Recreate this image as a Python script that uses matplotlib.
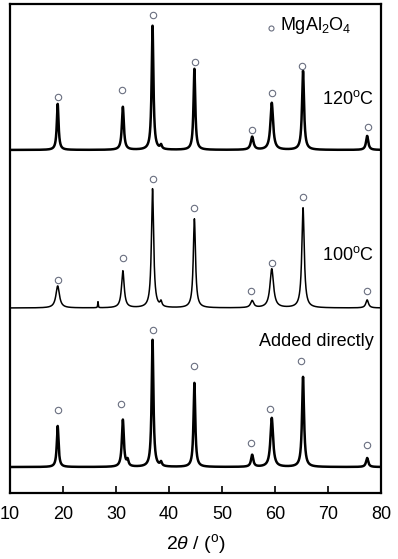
"""XRD patterns of MgAl2O4 samples prepared at different conditions."""

import matplotlib.pyplot as plt
import numpy as np

plt.rcParams["font.family"] = ["Liberation Sans", "DejaVu Sans"]
plt.rcParams["mathtext.fontset"] = "custom"
plt.rcParams["mathtext.rm"] = "Liberation Sans"
plt.rcParams["mathtext.it"] = "Liberation Sans:italic"

# Peak list (2theta in degrees, heights in plot units)
peak_pos = [19.0, 31.3, 36.9, 44.8, 55.7, 59.4, 65.3, 77.4]

# Samples from bottom to top
labels = ["Added directly", "100$^{\\rm o}$C", "120$^{\\rm o}$C"]
baselines = [26, 185, 343]
heights = [
    [41, 47, 127, 84, 12, 49, 90, 9],
    [22, 37, 119, 89, 7, 39, 100, 8],
    [46, 43, 124, 81, 13, 47, 79, 14],
]
widths = [
    [0.4, 0.45, 0.4, 0.4, 0.5, 0.6, 0.45, 0.5],
    [0.8, 0.6, 0.5, 0.5, 0.7, 0.8, 0.55, 0.6],
    [0.4, 0.45, 0.4, 0.4, 0.6, 0.6, 0.45, 0.5],
]
# weak extra reflections (position, height, width)
extra_peaks = [
    [(32.2, 6, 0.4), (38.5, 4, 0.4)],
    [(26.6, 6, 0.12), (38.5, 5, 0.4)],
    [(38.5, 4, 0.4)],
]
line_widths = [1.8, 1.1, 1.8]

# Marker (circle) positions above each peak
marker_x = [
    [19.0, 30.9, 36.9, 44.8, 55.4, 59.1, 65.0, 77.4],
    [19.0, 31.3, 36.9, 44.8, 55.5, 59.4, 65.3, 77.3],
    [19.0, 31.2, 36.9, 45.0, 55.6, 59.5, 65.2, 77.5],
]
marker_y = [
    [83, 89, 163, 127, 50, 84, 132, 48],
    [213, 235, 314, 285, 202, 230, 296, 202],
    [396, 403, 478, 431, 363, 400, 427, 366],
]
label_y = [151, 238, 394]

two_theta = np.linspace(10, 80, 7001)


def lorentz(x, x0, h, w):
    return h / (1 + ((x - x0) / (w / 2)) ** 2)


fig = plt.figure(figsize=(3.98, 5.59), dpi=100)
ax = fig.add_axes([0.0251, 0.118, 0.932, 0.875])

for i in range(3):
    y = np.full_like(two_theta, baselines[i], dtype=float)
    for x0, h, w in zip(peak_pos, heights[i], widths[i]):
        y += lorentz(two_theta, x0, h, w)
    for x0, h, w in extra_peaks[i]:
        y += lorentz(two_theta, x0, h, w)
    ax.plot(two_theta, y, color="black", lw=line_widths[i], solid_joinstyle="round")
    ax.plot(marker_x[i], marker_y[i], "o", ms=4.6, mfc="none", mec="#6a6f80", mew=0.8)
    ax.text(78.7, label_y[i], labels[i], ha="right", va="center", fontsize=13)

# legend entry
ax.plot([59.2], [465], "o", ms=3.6, mfc="none", mec="#6a6f80", mew=0.8)
ax.text(61.0, 467, "MgAl$_2$O$_4$", ha="left", va="center", fontsize=13)

ax.set_xlim(10, 80)
ax.set_ylim(0, 489)
ax.set_yticks([])
ax.set_xticks(range(10, 81, 10))
ax.tick_params(axis="x", direction="in", length=5, width=1.2, labelsize=13, pad=9)
for spine in ax.spines.values():
    spine.set_linewidth(1.6)
ax.set_xlabel("2$\\theta$ / ($^{\\rm o}$)", fontsize=14, labelpad=7)

fig.savefig("out.png", dpi=100)
